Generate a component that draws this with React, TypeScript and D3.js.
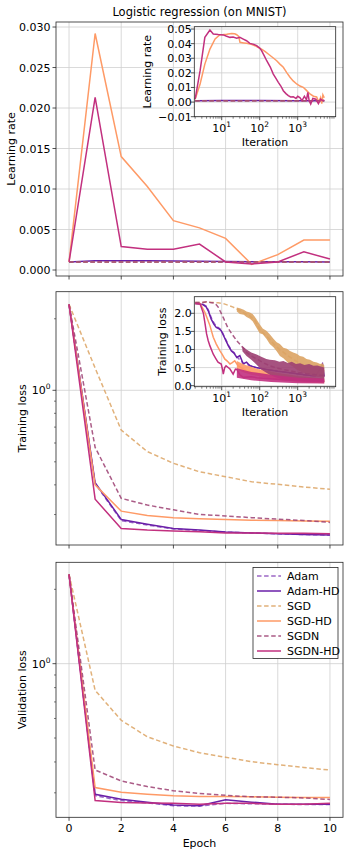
import React from 'react';
import * as d3 from 'd3';

type Pt = [number, number];
type Band = [number, number, number];

const SERIES = ['Adam', 'Adam-HD', 'SGD', 'SGD-HD', 'SGDN', 'SGDN-HD'];
const COLORS = ['#8a4cbc', '#6a1fa8', '#dca363', '#fe9a66', '#9c3f72', '#c2307f'];
const DASHED = [true, false, true, false, true, false];

const epochs = [0, 1, 2, 3, 4, 5, 6, 7, 8, 9, 10];

// learning rate per epoch
const lrAdam = [0.001, 0.001, 0.001, 0.001, 0.001, 0.001, 0.001, 0.001, 0.001, 0.001, 0.001];
const lrAdamHD = [0.001, 0.00115, 0.00115, 0.00113, 0.0011, 0.00108, 0.00105, 0.00103, 0.00102, 0.00101, 0.001];
const lrSGD = [0.001, 0.001, 0.001, 0.001, 0.001, 0.001, 0.001, 0.001, 0.001, 0.001, 0.001];
const lrSGDHD = [0.001, 0.0292, 0.014, 0.0103, 0.0061, 0.0052, 0.0039, 0.0007, 0.0019, 0.0037, 0.0037];
const lrSGDN = [0.001, 0.001, 0.001, 0.001, 0.001, 0.001, 0.001, 0.001, 0.001, 0.001, 0.001];
const lrSGDNHD = [0.001, 0.0213, 0.0029, 0.00255, 0.00255, 0.0032, 0.001, 0.00075, 0.001, 0.00225, 0.00135];

// training loss per epoch
const trAdam = [2.3, 0.405, 0.283, 0.271, 0.261, 0.257, 0.253, 0.251, 0.249, 0.247, 0.246];
const trAdamHD = [2.3, 0.408, 0.286, 0.273, 0.262, 0.258, 0.253, 0.251, 0.249, 0.247, 0.246];
const trSGD = [2.3, 1.24, 0.68, 0.552, 0.493, 0.454, 0.433, 0.412, 0.402, 0.392, 0.383];
const trSGDHD = [2.3, 0.4, 0.31, 0.297, 0.291, 0.288, 0.286, 0.284, 0.283, 0.282, 0.281];
const trSGDN = [2.3, 0.575, 0.351, 0.329, 0.314, 0.3, 0.296, 0.291, 0.287, 0.283, 0.278];
const trSGDNHD = [2.3, 0.348, 0.262, 0.258, 0.256, 0.254, 0.251, 0.251, 0.25, 0.25, 0.249];

// validation loss per epoch
const vaAdam = [2.3, 0.292, 0.279, 0.273, 0.266, 0.265, 0.272, 0.271, 0.27, 0.269, 0.269];
const vaAdamHD = [2.3, 0.296, 0.2825, 0.275, 0.268, 0.266, 0.281, 0.275, 0.27, 0.27, 0.27];
const vaSGD = [2.3, 0.78, 0.59, 0.506, 0.464, 0.436, 0.418, 0.401, 0.39, 0.38, 0.371];
const vaSGDHD = [2.3, 0.315, 0.3015, 0.296, 0.292, 0.29, 0.29, 0.289, 0.288, 0.287, 0.287];
const vaSGDN = [2.3, 0.371, 0.335, 0.318, 0.306, 0.298, 0.293, 0.289, 0.288, 0.286, 0.282];
const vaSGDNHD = [2.3, 0.279, 0.274, 0.273, 0.272, 0.27, 0.272, 0.272, 0.27, 0.27, 0.272];

// inset: learning rate per iteration
const itLrFlat: Pt[] = [[2, 0.001], [5000, 0.001]];
const itLrAdamHD: Pt[] = [[2, 0.001], [10, 0.0011], [100, 0.00105], [1000, 0.001], [5000, 0.001]];
const itLrSGDHD: Pt[] = [
  [2, 0.002], [2.7, 0.0124], [3.6, 0.026], [4.9, 0.0363], [6.7, 0.0432], [9, 0.0461], [11, 0.0462],
  [13.5, 0.0464], [18.3, 0.047], [22, 0.0468], [24.8, 0.0461], [28, 0.045], [30.3, 0.0409], [38, 0.0405],
  [45.5, 0.0402], [60, 0.0395], [75, 0.0386], [90, 0.0375], [112, 0.0363], [140, 0.0345], [168, 0.0329],
  [220, 0.0305], [280, 0.0283], [340, 0.026], [418, 0.0238], [520, 0.02], [627, 0.017], [760, 0.0145],
  [940, 0.0124], [1150, 0.011], [1400, 0.0101], [1700, 0.008], [2100, 0.0056], [2600, 0.004],
  [3150, 0.0035], [3600, 0.0], [4000, 0.003], [4300, -0.001], [4600, 0.005], [5000, 0.003],
];
const itLrSGDNHD: Pt[] = [
  [2, 0.0021], [2.7, 0.0215], [3.6, 0.0443], [4.9, 0.0493], [6, 0.0466], [8.1, 0.0462], [11, 0.046],
  [13, 0.0452], [16.5, 0.0443], [20, 0.0445], [24.8, 0.0437], [30, 0.0443], [37, 0.0431], [45, 0.042],
  [55, 0.0402], [70, 0.0395], [83, 0.0386], [100, 0.037], [112, 0.0352], [130, 0.032], [153, 0.0283],
  [190, 0.024], [228, 0.0192], [270, 0.016], [309, 0.0135], [360, 0.011], [418, 0.0078], [490, 0.0058],
  [565, 0.0044], [650, 0.0035], [765, 0.0037], [900, 0.0025], [1000, 0.004], [1140, 0.0031], [1300, 0.001],
  [1500, 0.004], [1700, 0.0015], [1850, 0.0067], [2000, 0.001], [2200, -0.0013], [2500, 0.0025],
  [3000, 0.002], [3500, -0.001], [4000, 0.002], [4500, 0.001], [5000, 0.0015],
];

// inset: training loss per iteration, with noise envelopes
const itTrAdam: Pt[] = [
  [2, 2.28], [2.7, 2.27], [3.2, 2.25], [3.9, 2.2], [4.5, 2.08], [5.3, 1.88], [6.2, 1.74], [7.2, 1.64],
  [8.3, 1.6], [9.7, 1.54], [11, 1.42], [13, 1.26], [15, 1.12], [18, 0.98], [21, 0.92], [25, 0.8],
  [37, 0.62], [55, 0.56], [80, 0.5], [150, 0.45], [300, 0.4], [700, 0.35], [1500, 0.3], [3000, 0.27], [5000, 0.25],
];
const itTrAdamHD: Pt[] = [
  [2, 2.27], [2.7, 2.26], [3.2, 2.24], [3.9, 2.18], [4.5, 2.05], [5.3, 1.84], [6.2, 1.7], [7.2, 1.61],
  [8.3, 1.58], [9.7, 1.52], [11, 1.4], [13, 1.24], [15, 1.1], [18, 0.96], [21, 0.9], [25, 0.78],
  [30, 0.83], [37, 0.6], [45, 0.65], [55, 0.55], [80, 0.5], [150, 0.45], [300, 0.4], [700, 0.35],
  [1500, 0.3], [3000, 0.27], [4500, 0.6], [5000, 0.25],
];
const itTrSGD: Pt[] = [
  [2, 2.3], [3, 2.3], [4, 2.31], [6, 2.3], [8, 2.29], [11, 2.27], [15, 2.22], [20, 2.17], [25, 2.12],
  [35, 2.03], [55, 1.93], [75, 1.8], [100, 1.55], [140, 1.4], [184, 1.28], [250, 1.12], [340, 0.99],
  [450, 0.9], [627, 0.79], [850, 0.7], [1140, 0.62], [1500, 0.56], [2100, 0.51], [3000, 0.46], [5000, 0.41],
];
const itTrSGDBand: Band[] = [
  [25, 2.05, 2.16], [30, 1.98, 2.14], [38, 1.96, 2.1], [45, 1.9, 2.05], [55, 1.85, 2.02], [65, 1.78, 1.98],
  [80, 1.62, 1.86], [100, 1.45, 1.7], [120, 1.42, 1.58], [150, 1.3, 1.52], [184, 1.15, 1.42], [230, 1.06, 1.3],
  [280, 0.95, 1.2], [340, 0.82, 1.15], [420, 0.76, 1.05], [520, 0.66, 1.02], [627, 0.58, 0.96], [760, 0.52, 0.92],
  [940, 0.44, 0.88], [1140, 0.4, 0.82], [1400, 0.36, 0.8], [1700, 0.32, 0.74], [2100, 0.3, 0.72],
  [2600, 0.27, 0.66], [3200, 0.25, 0.64], [3900, 0.23, 0.6], [4500, 0.22, 0.62], [5000, 0.22, 0.56],
];
const itTrSGDHD: Pt[] = [
  [2, 2.27], [2.7, 2.27], [3.6, 2.03], [4.2, 1.85], [4.9, 1.66], [6, 1.34], [7.2, 1.15], [9, 0.96],
  [10.5, 0.85], [12, 0.74], [14, 0.68], [16.5, 0.6], [19, 0.64], [22, 0.69], [27, 0.55], [35, 0.48],
  [45, 0.41], [70, 0.36], [112, 0.32], [200, 0.27], [418, 0.23], [800, 0.19], [1400, 0.16], [3000, 0.14], [5000, 0.12],
];
const itTrSGDHDBand: Band[] = [
  [25, 0.45, 0.68], [40, 0.36, 0.58], [60, 0.3, 0.52], [90, 0.27, 0.46], [150, 0.22, 0.42], [250, 0.18, 0.37],
  [400, 0.15, 0.33], [650, 0.12, 0.3], [1000, 0.1, 0.27], [2000, 0.08, 0.24], [5000, 0.07, 0.2],
];
const itTrSGDN: Pt[] = [
  [2, 2.3], [3, 2.3], [4, 2.32], [5, 2.3], [6.6, 2.28], [8, 2.18], [9, 2.07], [11, 1.88], [14.4, 1.61],
  [18, 1.45], [25, 1.24], [33, 1.1], [45, 0.92], [60, 0.82], [83, 0.74], [120, 0.64], [184, 0.55],
  [300, 0.48], [627, 0.41], [1000, 0.37], [1700, 0.33], [3000, 0.3], [5000, 0.28],
];
const itTrSGDNBand: Band[] = [
  [35, 0.95, 1.1], [45, 0.82, 1.0], [60, 0.72, 0.92], [83, 0.58, 0.86], [110, 0.45, 0.8], [150, 0.36, 0.74],
  [184, 0.3, 0.72], [250, 0.24, 0.7], [330, 0.2, 0.66], [420, 0.18, 0.68], [550, 0.16, 0.63], [700, 0.15, 0.66],
  [900, 0.13, 0.6], [1150, 0.13, 0.62], [1500, 0.12, 0.57], [2000, 0.11, 0.6], [2600, 0.11, 0.55],
  [3300, 0.1, 0.56], [4200, 0.1, 0.52], [5000, 0.1, 0.5],
];
const itTrSGDNHD: Pt[] = [
  [2, 2.27], [2.7, 2.26], [3.3, 2.0], [3.6, 1.75], [4, 1.43], [4.4, 1.25], [4.9, 1.1], [6, 0.87],
  [7, 0.75], [8, 0.65], [9.7, 0.6], [10.5, 0.45], [11, 0.32], [12, 0.5], [13, 0.55], [16.5, 0.46],
  [20, 0.32], [23, 0.46], [25, 0.45], [30, 0.3], [37, 0.23], [60, 0.25], [83, 0.22], [150, 0.2],
  [280, 0.18], [500, 0.16], [940, 0.14], [2000, 0.13], [5000, 0.12],
];
const itTrSGDNHDBand: Band[] = [
  [25, 0.22, 0.48], [60, 0.15, 0.38], [200, 0.1, 0.3], [1000, 0.07, 0.22], [5000, 0.06, 0.2],
];

const lrEpoch = [lrAdam, lrAdamHD, lrSGD, lrSGDHD, lrSGDN, lrSGDNHD];
const trEpoch = [trAdam, trAdamHD, trSGD, trSGDHD, trSGDN, trSGDNHD];
const vaEpoch = [vaAdam, vaAdamHD, vaSGD, vaSGDHD, vaSGDN, vaSGDNHD];
const lrIter = [itLrFlat, itLrAdamHD, itLrFlat, itLrSGDHD, itLrFlat, itLrSGDNHD];
const trIter = [itTrAdam, itTrAdamHD, itTrSGD, itTrSGDHD, itTrSGDN, itTrSGDNHD];
const trIterBands: (Band[] | null)[] = [null, null, itTrSGDBand, itTrSGDHDBand, itTrSGDNBand, itTrSGDNHDBand];

const lrTicks = [0, 0.005, 0.01, 0.015, 0.02, 0.025, 0.03];
const insetLrTicks = [-0.01, 0, 0.01, 0.02, 0.03, 0.04, 0.05];
const insetTrTicks = [0, 0.5, 1, 1.5, 2];
const epochTicks = [0, 2, 4, 6, 8, 10];
const iterTicks = [10, 100, 1000];
const logMinor = [0.3, 0.4, 0.5, 0.6, 0.7, 0.8, 0.9, 2];

const FONT = '"DejaVu Sans", sans-serif';
const FS = 11;
const AX = '#262626';
const GRID = '#cfcfcf';
const L = 56, R = 343;

const x = d3.scaleLinear().domain([-0.5, 10.5]).range([L, R]);
const y1 = d3.scaleLinear().domain([-0.00074, 0.03062]).range([276, 22]);
const y2 = d3.scaleLog().domain([0.2233, 2.6]).range([545, 291.7]);
const y3 = d3.scaleLog().domain([0.2388, 2.573]).range([817.3, 562.3]);
const xi = d3.scaleLog().domain([1.9, 10000]).range([194.3, 335.7]);
const yi1 = d3.scaleLinear().domain([-0.01, 0.0516]).range([116.7, 26.7]);
const yi2 = d3.scaleLinear().domain([-0.028, 2.459]).range([386.7, 296.7]);

const iterMinor: number[] = [];
for (let e = 0; e < 4; e++) for (let m = 2; m < 10; m++) {
  const v = m * Math.pow(10, e);
  if (v >= 1.9 && v <= 10000) iterMinor.push(v);
}

const fmt3 = d3.format('.3f');
const fmt2 = (v: number) => d3.format('.2f')(v).replace('-', '\u2212');
const fmt1 = d3.format('.1f');

function Pow10({ x: px, y: py, exp, anchor }: { x: number; y: number; exp: number; anchor: string }) {
  return (
    <text x={px} y={py} textAnchor={anchor} fontSize={FS} fill="#000">
      10<tspan dy={-5} fontSize={7.5}>{exp}</tspan>
    </text>
  );
}

function EpochPanel({ id, y, data, log, ylabel, labelX, showX }: any) {
  const [b, t] = y.range();
  const line = d3.line<number>().x((_, i) => x(epochs[i])).y(d => y(d));
  return (
    <g>
      <clipPath id={id}><rect x={L} y={t} width={R - L} height={b - t} /></clipPath>
      {epochTicks.map(e => (
        <line key={'gx' + e} x1={x(e)} x2={x(e)} y1={t} y2={b} stroke={GRID} strokeWidth={0.8} />
      ))}
      {(log ? [1] : lrTicks).map((v: number) => (
        <line key={'gy' + v} x1={L} x2={R} y1={y(v)} y2={y(v)} stroke={GRID} strokeWidth={0.8} />
      ))}
      <g clipPath={`url(#${id})`}>
        {data.map((s: number[], i: number) => (
          <path key={i} d={line(s) || ''} fill="none" stroke={COLORS[i]} strokeWidth={1.5}
            strokeDasharray={DASHED[i] ? '4.5,2.6' : undefined} opacity={DASHED[i] ? 0.85 : 1} />
        ))}
      </g>
      <rect x={L} y={t} width={R - L} height={b - t} fill="none" stroke={AX} strokeWidth={0.8} />
      {epochTicks.map(e => (
        <g key={'tx' + e}>
          <line x1={x(e)} x2={x(e)} y1={b} y2={b + 3.5} stroke={AX} strokeWidth={0.8} />
          {showX && <text x={x(e)} y={b + 15} textAnchor="middle" fontSize={FS}>{e}</text>}
        </g>
      ))}
      {log ? (
        <g>
          <line x1={L - 3.5} x2={L} y1={y(1)} y2={y(1)} stroke={AX} strokeWidth={0.8} />
          <Pow10 x={L - 5.5} y={y(1) + 4} exp={0} anchor="end" />
          {logMinor.map(v => (
            <line key={'m' + v} x1={L - 2} x2={L} y1={y(v)} y2={y(v)} stroke={AX} strokeWidth={0.6} />
          ))}
        </g>
      ) : (
        lrTicks.map(v => (
          <g key={'ty' + v}>
            <line x1={L - 3.5} x2={L} y1={y(v)} y2={y(v)} stroke={AX} strokeWidth={0.8} />
            <text x={L - 5.5} y={y(v) + 4} textAnchor="end" fontSize={FS}>{fmt3(v)}</text>
          </g>
        ))
      )}
      <text transform={`translate(${labelX},${(t + b) / 2}) rotate(-90)`} textAnchor="middle" fontSize={FS}>{ylabel}</text>
    </g>
  );
}

function IterInset({ id, y, data, bands, ticks, tickFmt, ylabel, labelX }: any) {
  const [b, t] = y.range();
  const [l, r] = xi.range();
  const line = d3.line<Pt>().x(d => xi(d[0])).y(d => y(d[1]));
  const area = d3.area<Band>().x(d => xi(d[0])).y0(d => y(d[1])).y1(d => y(d[2]));
  return (
    <g>
      <clipPath id={id}><rect x={l} y={t} width={r - l} height={b - t} /></clipPath>
      <rect x={l} y={t} width={r - l} height={b - t} fill="#fff" />
      {iterTicks.map(v => (
        <line key={'gx' + v} x1={xi(v)} x2={xi(v)} y1={t} y2={b} stroke={GRID} strokeWidth={0.8} />
      ))}
      {ticks.map((v: number) => (
        <line key={'gy' + v} x1={l} x2={r} y1={y(v)} y2={y(v)} stroke={GRID} strokeWidth={0.8} />
      ))}
      <g clipPath={`url(#${id})`}>
        {data.map((s: Pt[], i: number) => (
          <g key={i}>
            {bands && bands[i] && (
              <path d={area(bands[i]) || ''} fill={COLORS[i]} opacity={0.9} />
            )}
            <path d={line(s) || ''} fill="none" stroke={COLORS[i]} strokeWidth={1.5}
              strokeDasharray={DASHED[i] ? '4.5,2.6' : undefined} opacity={DASHED[i] ? 0.85 : 1} />
          </g>
        ))}
      </g>
      <rect x={l} y={t} width={r - l} height={b - t} fill="none" stroke={AX} strokeWidth={0.8} />
      {iterMinor.map(v => (
        <line key={'mx' + v} x1={xi(v)} x2={xi(v)} y1={b} y2={b + 2} stroke={AX} strokeWidth={0.6} />
      ))}
      {iterTicks.map((v, k) => (
        <g key={'tx' + v}>
          <line x1={xi(v)} x2={xi(v)} y1={b} y2={b + 3.5} stroke={AX} strokeWidth={0.8} />
          <Pow10 x={xi(v)} y={b + 15.5} exp={k + 1} anchor="middle" />
        </g>
      ))}
      {ticks.map((v: number) => (
        <g key={'ty' + v}>
          <line x1={l - 3.5} x2={l} y1={y(v)} y2={y(v)} stroke={AX} strokeWidth={0.8} />
          <text x={l - 2.5} y={y(v) + 4} textAnchor="end" fontSize={FS}>{tickFmt(v)}</text>
        </g>
      ))}
      <text x={(l + r) / 2} y={b + 29.5} textAnchor="middle" fontSize={FS}>Iteration</text>
      <text transform={`translate(${labelX},${(t + b) / 2}) rotate(-90)`} textAnchor="middle" fontSize={FS}>{ylabel}</text>
    </g>
  );
}

function Legend() {
  const top = 567.5;
  return (
    <g>
      <rect x={253} y={top} width={85} height={91} fill="#fff" stroke={AX} strokeWidth={0.8} />
      {SERIES.map((n, i) => (
        <g key={n}>
          <line x1={257} x2={281} y1={top + 8.5 + i * 15} y2={top + 8.5 + i * 15} stroke={COLORS[i]} strokeWidth={1.5}
            strokeDasharray={DASHED[i] ? '4.5,2.6' : undefined} opacity={DASHED[i] ? 0.85 : 1} />
          <text x={287} y={top + 12.5 + i * 15} fontSize={FS}>{n}</text>
        </g>
      ))}
    </g>
  );
}

export default function App() {
  return (
    <svg width={354} height={855} style={{ position: 'absolute', left: 0, top: 0, background: '#fff' }}
      fontFamily={FONT}>
      <rect width={354} height={855} fill="#fff" />
      <text x={199.5} y={16} textAnchor="middle" fontSize={11.5}>Logistic regression (on MNIST)</text>
      <EpochPanel id="c1" y={y1} data={lrEpoch} log={false} ylabel="Learning rate" labelX={15} showX={false} />
      <IterInset id="c1i" y={yi1} data={lrIter} bands={null} ticks={insetLrTicks} tickFmt={fmt2}
        ylabel="Learning rate" labelX={151} />
      <EpochPanel id="c2" y={y2} data={trEpoch} log={true} ylabel="Training loss" labelX={26} showX={false} />
      <IterInset id="c2i" y={yi2} data={trIter} bands={trIterBands} ticks={insetTrTicks} tickFmt={fmt1}
        ylabel="Training loss" labelX={166} />
      <EpochPanel id="c3" y={y3} data={vaEpoch} log={true} ylabel="Validation loss" labelX={26} showX={true} />
      <text x={199.5} y={847} textAnchor="middle" fontSize={FS}>Epoch</text>
      <Legend />
    </svg>
  );
}
